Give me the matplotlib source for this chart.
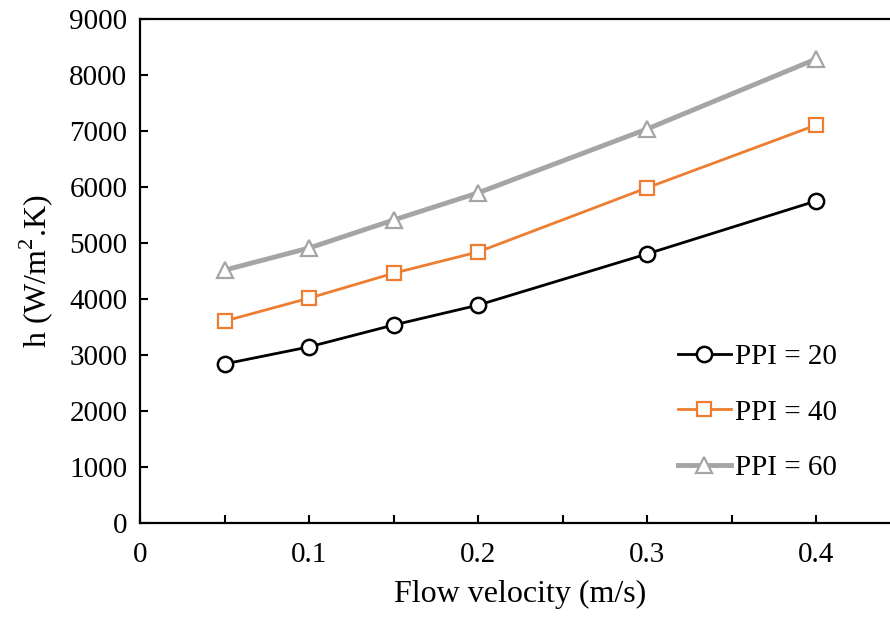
import numpy as np
import matplotlib.pyplot as plt

plt.rcParams['font.family'] = ['Liberation Serif', 'DejaVu Serif']
plt.rcParams['mathtext.fontset'] = 'custom'
plt.rcParams['mathtext.rm'] = 'Liberation Serif'

velocity = [0.05, 0.1, 0.15, 0.2, 0.3, 0.4]
h_ppi20 = [2840, 3145, 3535, 3890, 4805, 5750]
h_ppi40 = [3605, 4015, 4460, 4840, 5985, 7105]
h_ppi60 = [4515, 4910, 5410, 5895, 7035, 8285]

fig = plt.figure(figsize=(8.9, 6.18), dpi=100)
ax = fig.add_axes([140 / 890, (618 - 523) / 618, 760.5 / 890, 504 / 618])

ax.plot(velocity, h_ppi20, color='black', lw=2, marker='o', ms=11,
        mfc='white', mec='black', mew=1.8, label='PPI = 20')
ax.plot(velocity, h_ppi40, color='#ED7D31', lw=2, marker='s', ms=10.5,
        mfc='white', mec='#ED7D31', mew=1.6, label='PPI = 40')
ax.plot(velocity, h_ppi60, color='#A5A5A5', lw=3.5, marker='^', ms=11,
        mfc='white', mec='#A5A5A5', mew=1.6, label='PPI = 60')

ax.set_xlim(0, 0.45)
ax.set_ylim(0, 9000)
ax.set_xticks([0, 0.1, 0.2, 0.3, 0.4])
ax.set_xticklabels(['0', '0.1', '0.2', '0.3', '0.4'])
ax.set_xticks([0.05, 0.15, 0.25, 0.35], minor=True)
ax.set_yticks(np.arange(0, 9001, 1000))

ax.spines['right'].set_visible(False)
for s in ['left', 'bottom', 'top']:
    ax.spines[s].set_linewidth(1.6)
ax.tick_params(axis='both', which='both', direction='in', length=6, width=1.5,
               labelsize=21, pad=14)
ax.tick_params(axis='y', pad=9)

ax.set_xlabel('Flow velocity (m/s)', fontsize=23, labelpad=8)
ax.set_ylabel('h (W/m$^2$.K)', fontsize=23, labelpad=10)

ax.legend(loc='lower right', bbox_to_anchor=(0.932, 0.06), frameon=False,
          fontsize=21, labelspacing=1.0, handlelength=1.8, handletextpad=0.15,
          borderaxespad=0)

fig.savefig('out.png', dpi=100)
